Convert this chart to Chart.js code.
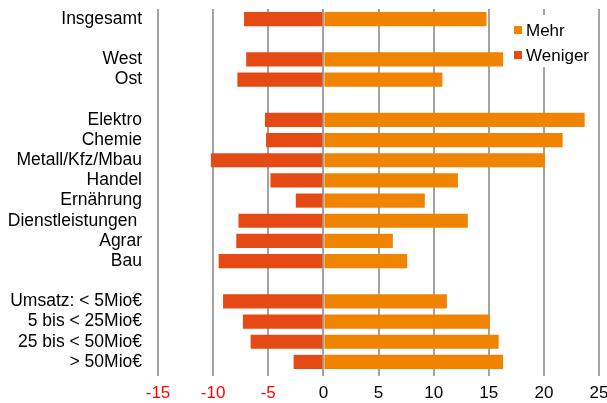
<!DOCTYPE html>
<html>
<head>
<meta charset="utf-8">
<script src="https://cdn.jsdelivr.net/npm/chart.js@4/dist/chart.umd.min.js"></script>
<style>
  html, body { margin: 0; padding: 0; background: #fff; }
  #wrap { width: 607px; height: 403px; }
</style>
</head>
<body>
<div id="wrap"><canvas id="c" width="607" height="403"></canvas></div>
<script>
// Row labels (empty strings leave a blank row between groups)
const categories = [
  'Insgesamt', '',
  'West', 'Ost', '',
  'Elektro', 'Chemie', 'Metall/Kfz/Mbau', 'Handel', 'Ernährung', 'Dienstleistungen ', 'Agrar', 'Bau', '',
  'Umsatz: < 5Mio€', '5 bis < 25Mio€', '25 bis < 50Mio€', '> 50Mio€'
];

// Share of firms expecting more (positive) and fewer (negative)
const mehr = [
  14.8, null,
  16.3, 10.8, null,
  23.7, 21.7, 20.1, 12.2, 9.2, 13.1, 6.3, 7.6, null,
  11.2, 15.1, 15.9, 16.3
];
const weniger = [
  -7.2, null,
  -7.0, -7.8, null,
  -5.3, -5.2, -10.2, -4.8, -2.5, -7.7, -7.9, -9.5, null,
  -9.1, -7.3, -6.6, -2.7
];

const xMin = -15, xMax = 25, xStep = 5;

const FONT = "'Liberation Sans', Arial, sans-serif";

// Legend drawn inside the plot area, on a white panel
const insideLegend = {
  id: 'insideLegend',
  afterDraw(chart) {
    const ctx = chart.ctx;
    ctx.save();
    ctx.fillStyle = '#ffffff';
    ctx.fillRect(506, 15, 89, 52);
    ctx.font = '17px ' + FONT;
    ctx.textBaseline = 'middle';
    ctx.textAlign = 'left';
    chart.data.datasets.forEach((ds, i) => {
      const cy = 30 + i * 25;
      ctx.fillStyle = ds.backgroundColor;
      ctx.fillRect(514, cy - 4, 8, 8);
      ctx.fillStyle = '#000';
      ctx.fillText(ds.label, 526, cy + 1);
    });
    ctx.restore();
  }
};

new Chart(document.getElementById('c'), {
  type: 'bar',
  data: {
    labels: categories,
    datasets: [
      { label: 'Mehr', data: mehr, backgroundColor: '#F08300', borderWidth: 0 },
      { label: 'Weniger', data: weniger, backgroundColor: '#E64A14', borderWidth: 0 }
    ]
  },
  options: {
    indexAxis: 'y',
    responsive: false,
    animation: false,
    devicePixelRatio: 1,
    layout: { padding: { top: 9, right: 8, left: 0, bottom: 0 } },
    datasets: { bar: { categoryPercentage: 1.0, barPercentage: 0.7 } },
    plugins: { legend: { display: false }, tooltip: { enabled: false } },
    scales: {
      x: {
        stacked: true,
        min: xMin, max: xMax,
        ticks: {
          stepSize: xStep,
          padding: 9,
          font: { family: FONT, size: 17, lineHeight: 1 },
          color: (c) => (c.tick && c.tick.value < 0) ? '#FF0000' : '#000000'
        },
        grid: { color: '#A3A3A3', lineWidth: 2, tickLength: 4, drawTicks: true },
        border: { display: false },
        afterFit(scale) { scale.height = 31; scale.paddingLeft = 0; scale.paddingRight = 0; }
      },
      y: {
        stacked: true,
        ticks: {
          padding: 16,
          autoSkip: false,
          font: { family: FONT, size: 17.5 },
          color: '#000000'
        },
        grid: { display: false, drawTicks: false },
        border: { display: false },
        afterFit(scale) { scale.width = 158; scale.paddingTop = 0; scale.paddingBottom = 0; }
      }
    }
  },
  plugins: [insideLegend]
});
</script>
</body>
</html>
